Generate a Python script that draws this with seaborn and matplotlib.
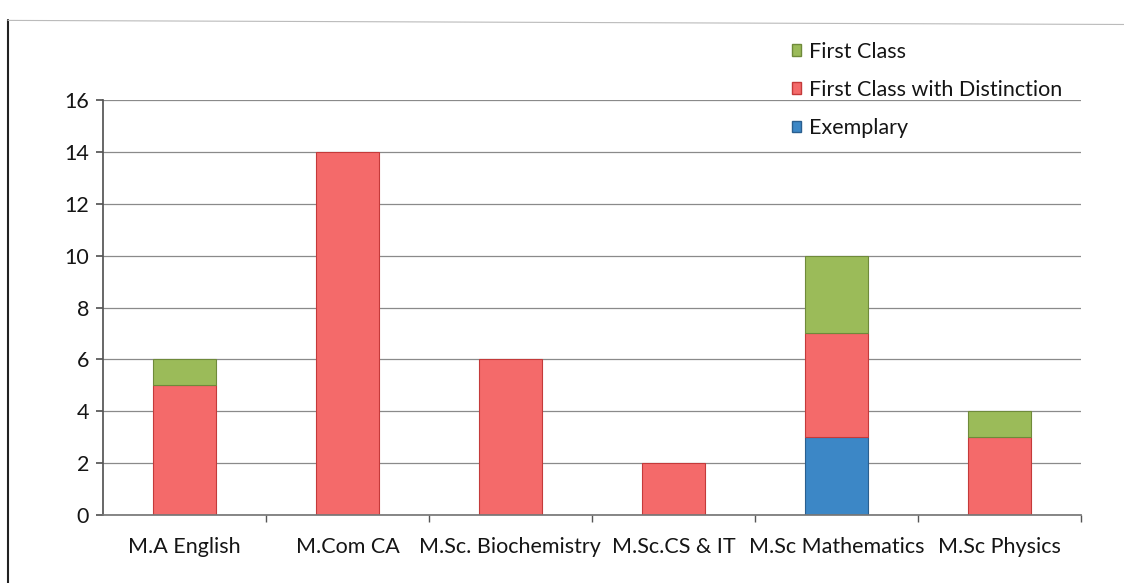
import pandas as pd
import matplotlib.pyplot as plt
import seaborn as sns
from matplotlib.lines import Line2D
from matplotlib.patches import Patch

# data
courses = ['M.A English', 'M.Com CA', 'M.Sc. Biochemistry', 'M.Sc.CS & IT',
           'M.Sc Mathematics', 'M.Sc Physics']
exemplary = [0, 0, 0, 0, 3, 0]
distinction = [5, 14, 6, 2, 4, 3]
first_class = [1, 0, 0, 0, 3, 1]

col_first = '#9BBB59'
col_dist = '#F46A6A'
col_exem = '#3C87C6'

sns.set_theme(style='white')
plt.rcParams['font.family'] = ['Lato', 'DejaVu Sans']

df = pd.DataFrame({'course': courses, 'exemplary': exemplary,
                   'distinction': distinction, 'first_class': first_class})
df['b1'] = df['exemplary']
df['b2'] = df['exemplary'] + df['distinction']

fig = plt.figure(figsize=(11.24, 5.83), dpi=100)
ax = fig.add_axes([0.0916, 0.117, 0.870, 0.711])

w = 0.39
# stack layers, skipping empty segments so no hairlines are drawn
layers = [('exemplary', None, col_exem, '#2a5f8f'),
          ('distinction', 'b1', col_dist, '#c43a3a'),
          ('first_class', 'b2', col_first, '#6f8a3a')]
for col, base, fc, ec in layers:
    sub = df[df[col] > 0]
    kw = {} if base is None else {'bottom': sub[base].values}
    sns.barplot(data=sub, x='course', y=col, order=courses, color=fc, width=w,
                edgecolor=ec, linewidth=0.8, ax=ax, saturation=1, **kw)

ax.set_ylim(0, 16)
ax.set_xlim(-0.5, 5.5)
ax.set_yticks(range(0, 17, 2))
ax.yaxis.grid(True, color='#8a8a8a', linewidth=0.9)
ax.set_axisbelow(True)
ax.set_xlabel('')
ax.set_ylabel('')
for s in ['top', 'right']:
    ax.spines[s].set_visible(False)
ax.spines['left'].set_color('#555555')
ax.spines['bottom'].set_color('#777777')
ax.tick_params(axis='y', left=True, length=5, color='#555555', labelsize=15.5,
               pad=5, labelcolor='#151515')
ax.tick_params(axis='x', bottom=False, labelsize=15.5, pad=10, labelcolor='#151515')
ax.set_xticks([i + 0.5 for i in range(5)] + [5.5], minor=True)
ax.tick_params(axis='x', which='minor', bottom=True, length=5, color='#555555')

handles = [Patch(facecolor=col_first, edgecolor='#6f8a3a', label='First Class'),
           Patch(facecolor=col_dist, edgecolor='#c43a3a', label='First Class with Distinction'),
           Patch(facecolor=col_exem, edgecolor='#2a5f8f', label='Exemplary')]
fig.legend(handles=handles, loc='upper left', bbox_to_anchor=(0.687, 0.962),
           frameon=False, fontsize=15.5, handlelength=0.45, handleheight=0.45,
           handletextpad=0.35, labelspacing=0.85, labelcolor='#151515')

# outer border of the chart
fig.add_artist(Line2D([0.007, 0.007], [0, 0.965], color='#222222', linewidth=1.5))
fig.add_artist(Line2D([0.007, 1.0], [0.965, 0.958], color='#bbbbbb', linewidth=0.8))

fig.savefig('out.png', dpi=100)
